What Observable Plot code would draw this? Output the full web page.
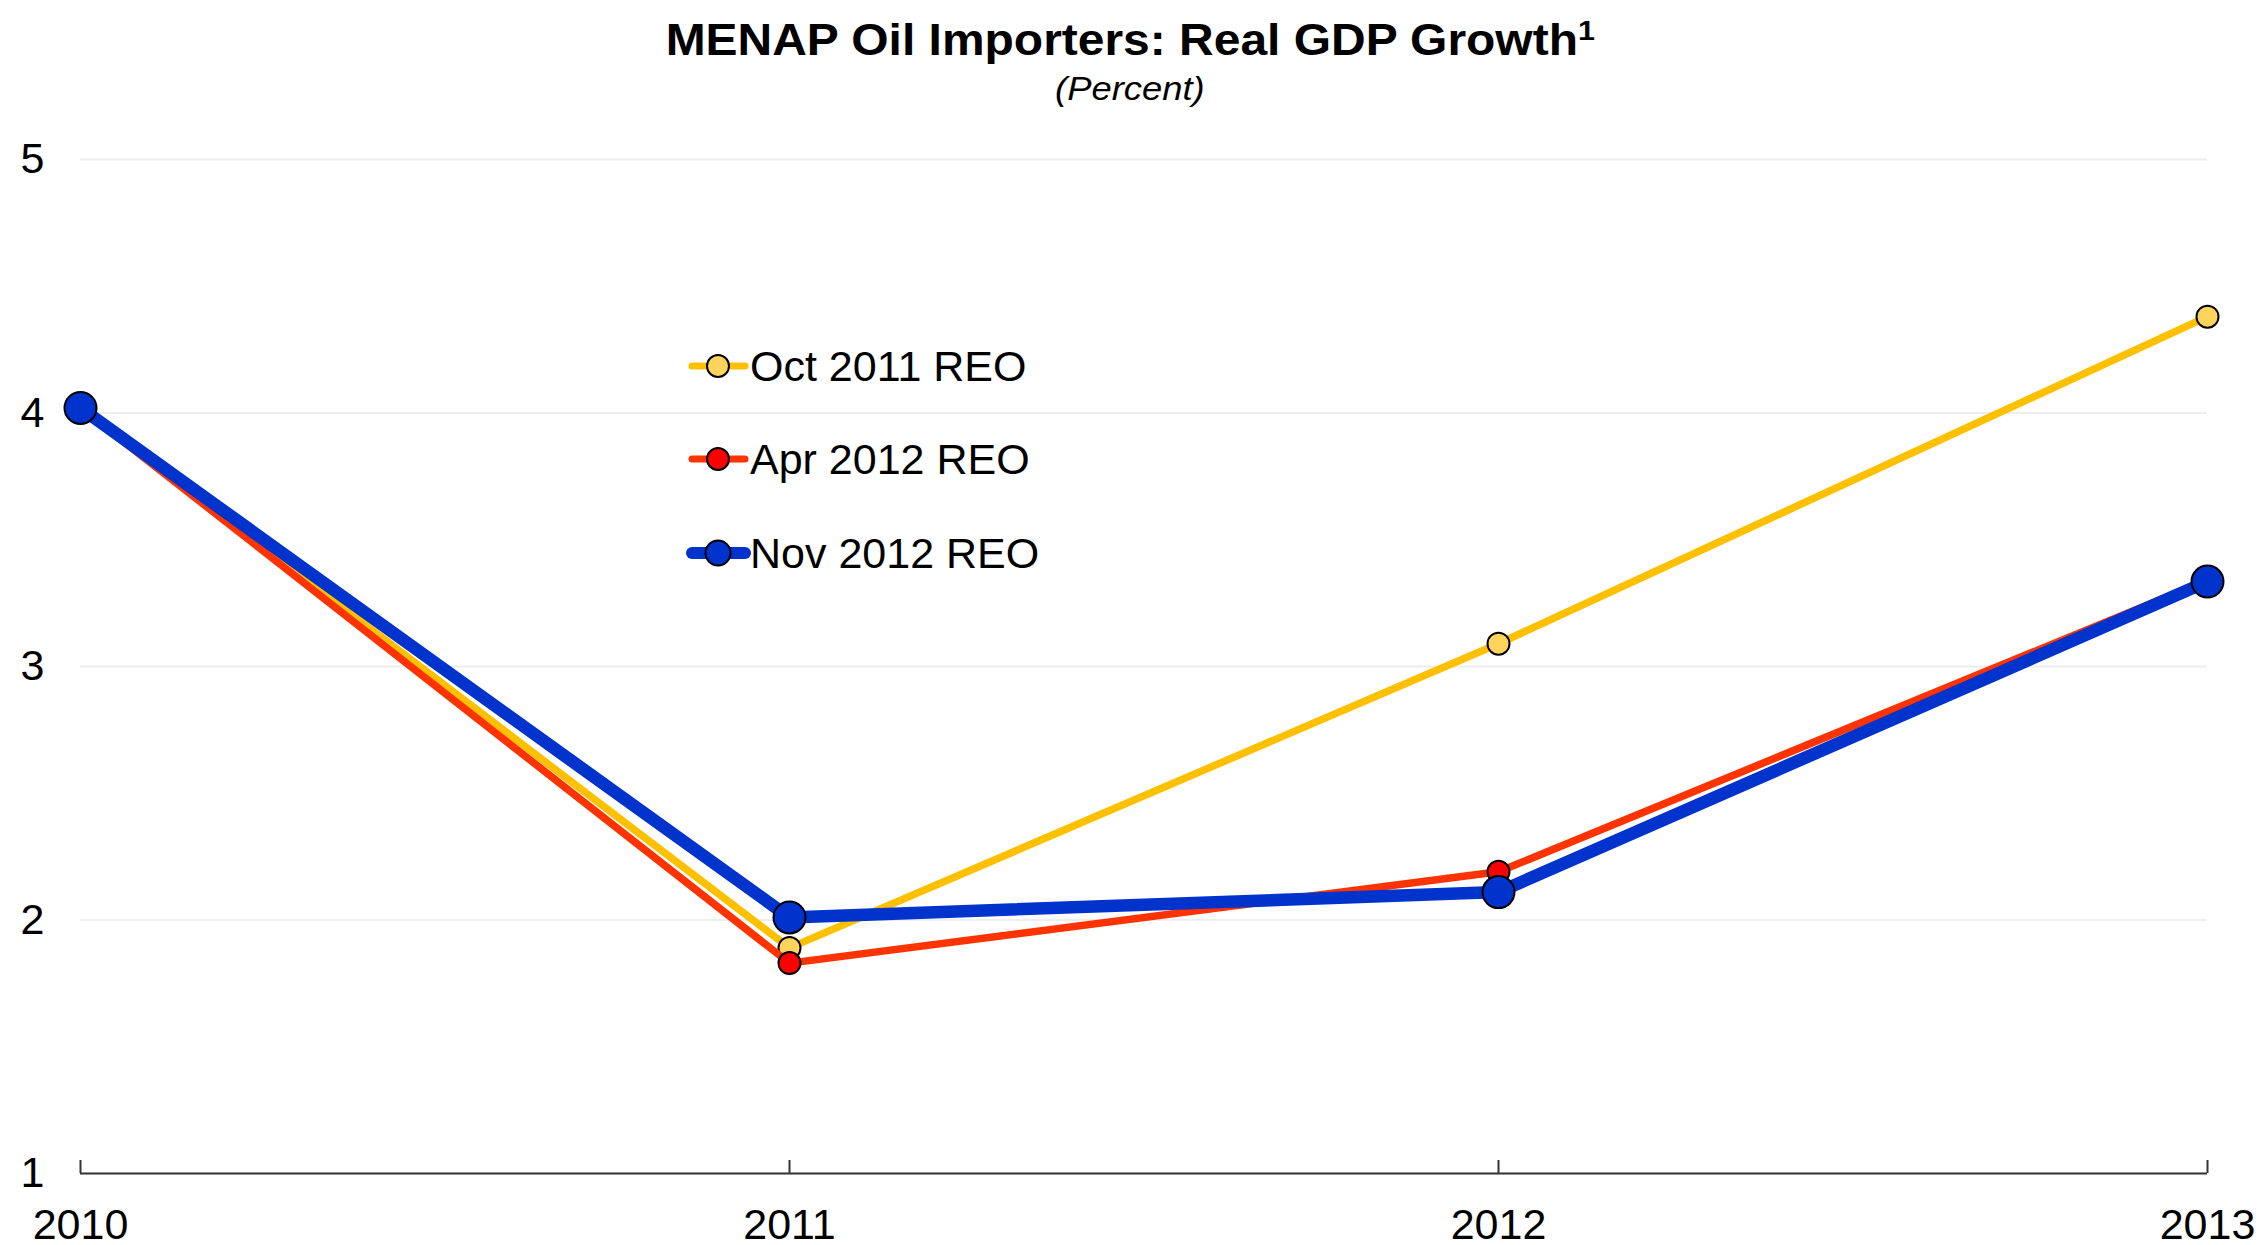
<!DOCTYPE html>
<html>
<head>
<meta charset="utf-8">
<script src="https://cdn.jsdelivr.net/npm/d3@7"></script>
<script src="https://cdn.jsdelivr.net/npm/@observablehq/plot@0.6"></script>
<style>
  html, body { margin: 0; padding: 0; background: #fff; }
  body { width: 2260px; height: 1245px; overflow: hidden; position: relative; font-family: "Liberation Sans", Arial, sans-serif; }
  #header { position: relative; width: 2260px; height: 130px; }
  .hrow { position: absolute; left: 0; width: 2260px; text-align: center; line-height: 1; color: #000; }
  .hrow span { display: inline-block; transform-origin: 50% 50%; }
  #title { top: 18px; font-weight: bold; font-size: 44px; }
  #title span { transform: scaleX(1.09); }
  #title sup { font-size: 28px; vertical-align: 15px; line-height: 0; }
  #subtitle { top: 71px; font-style: italic; font-size: 34px; }
  #subtitle span { transform: scaleX(1.07); }
  #legend { position: absolute; left: 0; top: 0; }
</style>
</head>
<body>
<div id="header">
  <div id="title" class="hrow"><span>MENAP Oil Importers: Real GDP Growth<sup>1</sup></span></div>
  <div id="subtitle" class="hrow"><span>(Percent)</span></div>
</div>
<div id="chart"></div>
<svg id="legend" width="2260" height="1245"></svg>
<script>
// ---- data ----
const years = [2010, 2011, 2012, 2013];
const oct2011 = [4.02, 1.89, 3.09, 4.38];
const apr2012 = [4.02, 1.83, 2.19, 3.34];
const nov2012 = [4.02, 2.01, 2.11, 3.335];
const seriesNames = ["Oct 2011 REO", "Apr 2012 REO", "Nov 2012 REO"];
const yTicks = [1, 2, 3, 4, 5];

// ---- styles ----
const styles = [
  { line: "#FFC000", fill: "#FFD45C", lw: 7.5, r: 11 },
  { line: "#FF3300", fill: "#FF0000", lw: 7.5, r: 11 },
  { line: "#0033CC", fill: "#0033CC", lw: 12.5, r: 16 }
];
const seriesValues = [oct2011, apr2012, nov2012];
const tables = seriesValues.map((vals, i) => years.map((y, j) => ({ year: y, value: vals[j], series: seriesNames[i] })));

const marks = [
  Plot.gridY(yTicks, { stroke: "#eeeeee", strokeOpacity: 1, strokeWidth: 2 }),
  Plot.ruleY([yTicks[0]], { stroke: "#333", strokeWidth: 2 }),
  Plot.ruleX(years, { x: d => d, insetTop: 1001, stroke: "#333", strokeWidth: 2 }),
  Plot.axisX(years, { label: null, tickSize: 0, tickPadding: 35, tickFormat: d => String(d), fontSize: 43, fill: "#000" }),
  Plot.axisY(yTicks, { label: null, tickSize: 0, tickPadding: 36, tickFormat: d => String(d), fontSize: 43, fill: "#000" })
];
tables.forEach((t, i) => {
  const s = styles[i];
  marks.push(Plot.line(t, { x: "year", y: "value", stroke: s.line, strokeWidth: s.lw, strokeLinejoin: "miter", strokeLinecap: "butt" }));
  marks.push(Plot.dot(t, { x: "year", y: "value", r: s.r, fill: s.fill, stroke: "#000", strokeWidth: 2 }));
});

const chart = Plot.plot({
  width: 2260,
  height: 1115,
  marginTop: 29,
  marginBottom: 72,
  marginLeft: 80,
  marginRight: 53,
  x: { type: "linear", domain: [years[0], years[years.length - 1]], axis: null },
  y: { domain: [yTicks[0], yTicks[yTicks.length - 1]], axis: null },
  style: { fontFamily: "'Liberation Sans', Arial, sans-serif", fontSize: "43px", color: "#000", background: "#fff", overflow: "visible" },
  marks
});
document.getElementById("chart").appendChild(chart);

// ---- legend ----
const leg = d3.select("#legend");
const rowsY = [366, 459, 553];
seriesNames.forEach((name, i) => {
  const s = styles[i];
  const g = leg.append("g").attr("transform", `translate(0,${rowsY[i]})`);
  g.append("line").attr("x1", 692).attr("x2", 745).attr("y1", 0).attr("y2", 0)
    .attr("stroke", s.line).attr("stroke-width", i === 2 ? 12 : 7).attr("stroke-linecap", "round");
  g.append("circle").attr("cx", 718).attr("cy", 0).attr("r", i === 2 ? 12.5 : 11)
    .attr("fill", s.fill).attr("stroke", "#000").attr("stroke-width", 2);
  g.append("text").attr("x", 750).attr("y", 0).attr("dy", "0.355em")
    .attr("font-family", "'Liberation Sans', Arial, sans-serif").attr("font-size", 43).attr("fill", "#000")
    .text(name);
});
</script>
</body>
</html>
